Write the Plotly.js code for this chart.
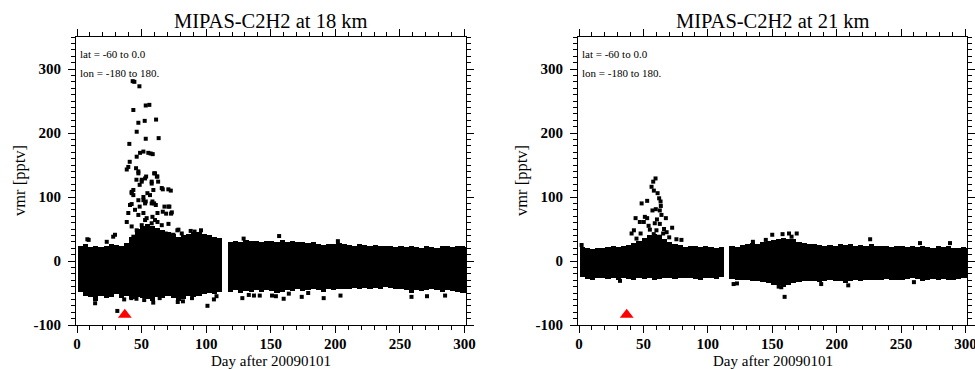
<!DOCTYPE html>
<html>
<head>
<meta charset="utf-8">
<script src="https://cdn.plot.ly/plotly-3.0.1.min.js"></script>
<style>html,body{margin:0;padding:0;background:#fff;}#chart{width:975px;height:369px;}</style>
</head>
<body>
<div id="chart"></div>
<script>
// ---- data ----
const titles = ["MIPAS-C2H2 at 18 km", "MIPAS-C2H2 at 21 km"];
const xTitle = "Day after 20090101";
const yTitle = "vmr [pptv]";
const regionText = ["lat = -60 to 0.0", "lon = -180 to 180."];
const xTickVals = [0, 50, 100, 150, 200, 250, 300];
const yTickVals = [-100, 0, 100, 200, 300];
const yTickText = ["-100", "0", "100", "200", "300"];

// envelope of the dense cloud of retrievals, in 4-day bins (bin centre days)
const binDays = [2.5,6.5,10.5,14.5,18.5,22.5,26.5,30.5,34.5,38.5,42.5,46.5,50.5,54.5,58.5,62.5,66.5,70.5,74.5,78.5,82.5,86.5,90.5,94.5,98.5,102.5,106.5,110.5,
  118.8,122.8,126.8,130.8,134.8,138.8,142.8,146.8,150.8,154.8,158.8,162.8,166.8,170.8,174.8,178.8,182.8,186.8,190.8,194.8,198.8,202.8,206.8,210.8,214.8,218.8,222.8,226.8,230.8,234.8,238.8,242.8,246.8,250.8,254.8,258.8,262.8,266.8,270.8,274.8,278.8,282.8,286.8,290.8,294.8,298.8,302.8];

const top18 = [24,26,22,23,22,24,27,25,24,28,38,50,55,58,55,52,48,45,42,38,40,42,45,46,42,40,38,36,
  30,32,30,33,31,32,30,31,32,30,33,30,31,29,30,28,30,27,25,26,27,28,26,25,24,26,25,24,25,24,23,24,22,24,22,23,22,21,23,22,21,23,24,22,23,24,22];
const bot18 = [-48,-55,-56,-62,-55,-58,-56,-52,-58,-55,-60,-56,-58,-60,-62,-56,-58,-55,-58,-62,-60,-55,-57,-54,-52,-50,-52,-48,
  -48,-46,-50,-47,-48,-46,-48,-45,-47,-50,-48,-46,-47,-44,-47,-45,-44,-46,-48,-44,-45,-44,-43,-44,-42,-43,-42,-44,-42,-43,-41,-42,-44,-43,-46,-50,-45,-47,-46,-44,-46,-48,-45,-47,-48,-50,-50];

const top21 = [22,20,19,20,21,22,23,22,24,25,28,32,36,40,42,40,35,30,26,25,22,23,24,22,23,22,21,22,
  24,22,25,26,28,27,30,32,33,35,36,35,34,30,28,26,27,25,24,25,24,26,25,27,24,25,24,26,23,24,23,22,24,23,22,23,22,24,22,21,23,22,24,21,20,22,21];
const bot21 = [-25,-28,-29,-27,-26,-28,-27,-29,-26,-28,-30,-27,-28,-27,-29,-28,-27,-26,-28,-27,-26,-27,-28,-30,-27,-26,-28,-25,
  -28,-30,-29,-30,-31,-32,-33,-35,-37,-38,-40,-37,-35,-33,-32,-31,-32,-33,-31,-30,-31,-32,-34,-31,-30,-31,-30,-29,-30,-29,-28,-29,-30,-29,-28,-27,-28,-32,-29,-28,-29,-28,-30,-29,-28,-27,-26];

// individual retrievals standing out of the dense cloud
const out18Day = [43.1,44.4,48.3,43.6,53.2,56,47.5,52.4,61.2,46.2,53.2,63.2,40.5,51.4,48.8,57,58.6,40.8,39.7,38.5,46.2,45.7,47.5,59.7,61.8,53.5,50.1,62.8,57.8,46,48.5,66.4,72.6,59.1,54.5,42.3,43.6,51.4,53.2,57.8,59.7,48.5,42.3,67.7,70.8,44.9,51.4,62.3,73.4,39.7,53.9,60.4,38.5,42.3,50.1,57.8,65.6,70.8,78.5,81.1,46.2,53.9,61.8,29.4,68.7,74.6,43.6,
  42.3,47.5,55.2,60.4,62.2,50.1,52.7,57.8,65.6,70.7,43.6,51.4,56.5,47.5,52.7,58.4,61,41,71.5,66.4,69,47.5,52.7,58.4,62.3,72.8,77.7,50,56.5,61.7,66.6,71.8,44.8,
  31.2,14,52,59,78,101,106,108,128,133,137,141.5,151,154,160,164,174,179,191,204,259,271,285,36.5,42,46,64,89,82,
  8,9,23,96,129,156.5,202,91,88,28];
const out18Val = [281,280,273,236,243,244,216,219,221,202,191,192,183,171,169,168,167,155,147,143,163,145,137,137,132,132,127,124,121,127,119,112,110,111,106,106,111,95,93,90,90,85,89,85,85,80,75,75,76,75,67,64,61,54,56,59,56,58,49,43,48,46,43,41,43,41,38,
  108,140,169,137,132,124,129,124,114,112,103,100,103,95,90,93,87.5,87.5,85,77,74,72,64,69,61,74,48,40,42,44,38,41,35,
  -78,-66,-61,-65,-64,-70,-60,-55,-58,-53,-54,-54,-54,-55,-59,-51,-56,-50,-58,-54,-56,-55,-54,-60,-58,-59,-58,-58,-63,
  34,33,30,48,35,39,31,46,47,38];

const out21Day = [59.4,57.6,56.3,58.1,61,62.2,63.3,52.9,48.6,57,59.6,62.7,51.1,52.9,43.9,67.4,47.2,50.3,58.8,62.7,72.3,42.6,40.8,47.8,55,60.1,65.3,70,75.6,44.6,62.2,79.5,63.5,64,60.5,54,66,58,68,
  31.8,158,163,169,159.6,155,157,122.6,188,226,264.7,288,209,2,135,145,150,165,120,260];
const out21Val = [129,124,116,110,106,98,93,94,90,79,81,79,69,67,67,67,61,61,59,58,52,48,43,43,49,48,43,37,34,35,38,33,86,72,65,55,50,42,45,
  -31,42,43,43,-56,-40,-41,-35,-36,34,28,28,-38,25,30,33,41,38,-36,-33];

// red triangle marker
const eventDay = [37];
const eventVal = [-84];

// ---- figure ----
const serif = "'Liberation Serif', 'Times New Roman', serif";
const tickFont = {family: serif, size: 15, color: '#000', weight: 700};

function heights(t, b) { return t.map((v, i) => v - b[i]); }

const traces = [];
[[top18, bot18, out18Day, out18Val, 'x', 'y'], [top21, bot21, out21Day, out21Val, 'x2', 'y2']].forEach(p => {
  traces.push({type: 'bar', x: binDays, y: heights(p[0], p[1]), base: p[1], width: 4,
    marker: {color: '#000', line: {width: 0}}, xaxis: p[4], yaxis: p[5], hoverinfo: 'skip'});
  traces.push({type: 'scatter', mode: 'markers', x: p[2], y: p[3],
    marker: {symbol: 'square', size: 4, color: '#000', line: {width: 0}}, xaxis: p[4], yaxis: p[5]});
  traces.push({type: 'scatter', mode: 'markers', x: eventDay, y: eventVal,
    marker: {symbol: 'triangle-up', size: 12, color: '#ff0000', line: {width: 0}}, xaxis: p[4], yaxis: p[5]});
});

function xax(dom, anchor) {
  return {domain: dom, anchor: anchor, range: [-0.8, 301.2], tickmode: 'array', tickvals: xTickVals,
    ticks: 'outside', ticklen: 7, tickwidth: 1, tickcolor: '#000',
    minor: {tickmode: 'linear', tick0: 0, dtick: 10, ticks: 'outside', ticklen: 4, tickwidth: 1, tickcolor: '#000'},
    showline: true, linecolor: '#000', linewidth: 1, mirror: 'ticks', showgrid: false, zeroline: false,
    tickfont: tickFont, ticklabeloverflow: 'allow', ticklabelstandoff: -2};
}
function yax(anchor) {
  return {domain: [0.1192, 0.8997], anchor: anchor, range: [-100, 350], tickmode: 'array', tickvals: yTickVals, ticktext: yTickText,
    ticks: 'outside', ticklen: 7, tickwidth: 1, tickcolor: '#000',
    minor: {tickmode: 'linear', tick0: 0, dtick: 10, ticks: 'outside', ticklen: 4, tickwidth: 1, tickcolor: '#000'},
    showline: true, linecolor: '#000', linewidth: 1, mirror: 'ticks', showgrid: false, zeroline: false,
    tickfont: tickFont, ticklabelstandoff: 4, ticklabeloverflow: 'allow'};
}

const leftDom = [76/975, 466/975], rightDom = [578/975, 967/975];
const annotations = [];
[[leftDom, 0], [rightDom, 1]].forEach(([dom, i]) => {
  const cx = (dom[0] + dom[1]) / 2;
  annotations.push({text: titles[i], xref: 'paper', yref: 'paper', x: cx, y: 1 - 21/369, xanchor: 'center', yanchor: 'middle',
    showarrow: false, font: {family: serif, size: 20.5, color: '#000'}});
  annotations.push({text: xTitle, xref: 'paper', yref: 'paper', x: cx, y: 1 - 360.5/369, xanchor: 'center', yanchor: 'middle',
    showarrow: false, font: {family: serif, size: 15, color: '#000'}});
  annotations.push({text: yTitle, xref: 'paper', yref: 'paper', x: dom[0] - 57/975, y: 1 - 181/369, xanchor: 'center', yanchor: 'middle',
    textangle: -90, showarrow: false, font: {family: serif, size: 16.5, color: '#000'}});
  annotations.push({text: regionText[0], xref: 'paper', yref: 'paper', x: dom[0] + 1.5/975, y: 1 - 54/369, xanchor: 'left', yanchor: 'middle',
    showarrow: false, font: {family: serif, size: 11, color: '#000'}});
  annotations.push({text: regionText[1], xref: 'paper', yref: 'paper', x: dom[0] + 1.5/975, y: 1 - 73/369, xanchor: 'left', yanchor: 'middle',
    showarrow: false, font: {family: serif, size: 11, color: '#000'}});
});

const layout = {
  width: 975, height: 369, margin: {l: 0, r: 0, t: 0, b: 0},
  paper_bgcolor: '#fff', plot_bgcolor: '#fff', showlegend: false, barmode: 'overlay', bargap: 0,
  xaxis: xax(leftDom, 'y'), yaxis: yax('x'),
  xaxis2: xax(rightDom, 'y2'), yaxis2: yax('x2'),
  annotations: annotations
};

Plotly.newPlot('chart', traces, layout, {staticPlot: true, displayModeBar: false});
</script>
</body>
</html>
